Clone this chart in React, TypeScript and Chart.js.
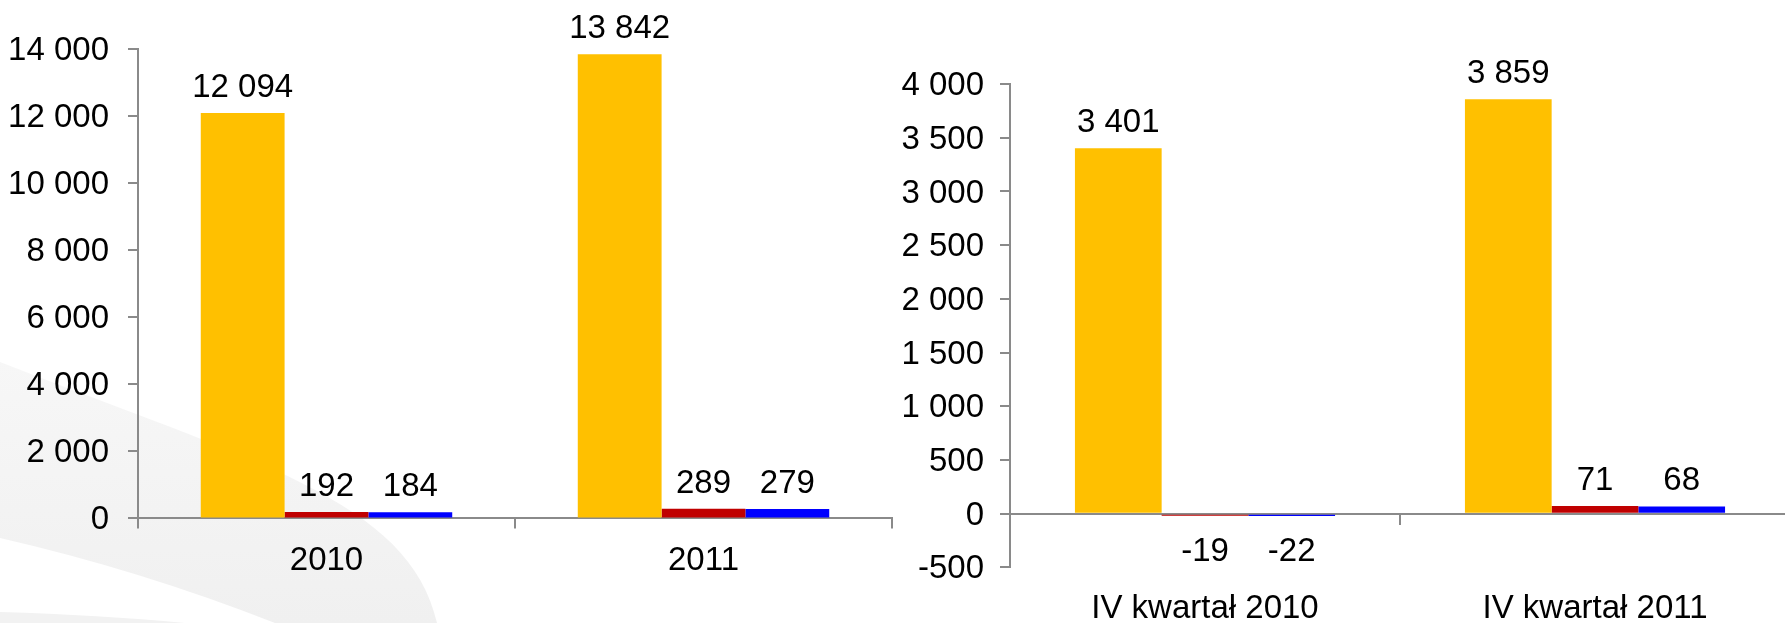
import React, { useEffect, useRef } from 'react';
import { Chart, registerables } from 'chart.js';

Chart.register(...registerables);

// ---- data ----
const leftCategories = ['2010', '2011'];
const leftYellow = [12094, 13842];
const leftRed = [192, 289];
const leftBlue = [184, 279];
const leftRange = [0, 14000, 2000];

const rightCategories = ['IV kwartał 2010', 'IV kwartał 2011'];
const rightYellow = [3401, 3859];
const rightRed = [-19, 71];
const rightBlue = [-22, 68];
const rightRange = [-500, 4000, 500];

// ---- styles ----
const YELLOW = '#FFC000';
const RED = '#C00000';
const BLUE = '#0000FF';
const AXIS = '#8a8a8a';
const FONT = "'Liberation Sans', Arial, sans-serif";
const FONT_SIZE = 33;

function fmt(v: number | string): string {
  const n = Number(v);
  const s = Math.abs(n).toString().replace(/\B(?=(\d{3})+(?!\d))/g, ' ');
  return (n < 0 ? '-' : '') + s;
}

const valueLabels = {
  id: 'valueLabels',
  afterDatasetsDraw(chart: any) {
    const ctx = chart.ctx;
    ctx.save();
    ctx.font = `${FONT_SIZE}px ${FONT}`;
    ctx.fillStyle = '#000';
    ctx.textAlign = 'center';
    ctx.textBaseline = 'alphabetic';
    chart.data.datasets.forEach((ds: any, i: number) => {
      const meta = chart.getDatasetMeta(i);
      meta.data.forEach((bar: any, j: number) => {
        const v = ds.data[j];
        const { x, y } = bar.getProps(['x', 'y'], true);
        if (v >= 0) ctx.fillText(fmt(v), x, y - 16);
        else ctx.fillText(fmt(v), x, y + 45);
      });
    });
    ctx.restore();
  },
};

const swoosh = {
  id: 'swoosh',
  beforeDraw(chart: any) {
    const ctx = chart.ctx;
    ctx.save();
    const g = ctx.createLinearGradient(0, 360, 0, 623);
    g.addColorStop(0, '#f7f7f7');
    g.addColorStop(1, '#f0f0f0');
    ctx.fillStyle = g;
    ctx.beginPath();
    ctx.moveTo(0, 362);
    ctx.bezierCurveTo(250, 460, 410, 500, 437, 623);
    ctx.lineTo(275, 623);
    ctx.quadraticCurveTo(140, 570, 0, 538);
    ctx.closePath();
    ctx.fill();
    ctx.fillStyle = '#f2f2f2';
    ctx.beginPath();
    ctx.moveTo(0, 612);
    ctx.quadraticCurveTo(100, 615, 185, 623);
    ctx.lineTo(0, 623);
    ctx.closePath();
    ctx.fill();
    ctx.restore();
  },
};

function datasets(a: number[], b: number[], c: number[]) {
  return [
    { data: a, backgroundColor: YELLOW },
    { data: b, backgroundColor: RED },
    { data: c, backgroundColor: BLUE },
  ].map((d) => ({ ...d, xAxisID: 'x', categoryPercentage: 0.667, barPercentage: 1, borderWidth: 0 }));
}

const tickFont = { family: FONT, size: FONT_SIZE };

export default function App() {
  const leftRef = useRef<HTMLCanvasElement>(null);
  const rightRef = useRef<HTMLCanvasElement>(null);

  useEffect(() => {
    const left = new Chart(leftRef.current!, {
      type: 'bar',
      data: { labels: leftCategories, datasets: datasets(leftYellow, leftRed, leftBlue) as any },
      options: {
        responsive: false,
        animation: false,
        layout: { padding: { top: 49, right: 8, bottom: 29, left: 0 } },
        plugins: { legend: { display: false }, tooltip: { enabled: false } },
        scales: {
          x: {
            type: 'category',
            offset: true,
            grid: { offset: true, drawOnChartArea: false, color: AXIS, lineWidth: 2, tickLength: 10 },
            border: { color: AXIS, width: 2 },
            ticks: { color: '#000', font: tickFont, padding: 13, maxRotation: 0 },
          },
          y: {
            min: leftRange[0],
            max: leftRange[1],
            grid: { drawOnChartArea: false, color: AXIS, lineWidth: 2, tickLength: 10 },
            border: { color: AXIS, width: 2 },
            ticks: { stepSize: leftRange[2], color: '#000', font: tickFont, padding: 19, labelOffset: 2, callback: (v: any) => fmt(v) },
            afterFit: (s: any) => {
              s.width = 138;
            },
          },
        },
      } as any,
      plugins: [swoosh, valueLabels],
    });

    const right = new Chart(rightRef.current!, {
      type: 'bar',
      data: { labels: rightCategories, datasets: datasets(rightYellow, rightRed, rightBlue) as any },
      options: {
        responsive: false,
        animation: false,
        layout: { padding: { top: 84, right: 10, bottom: 49, left: 0 } },
        plugins: { legend: { display: false }, tooltip: { enabled: false } },
        scales: {
          x: {
            type: 'category',
            position: { y: 0 },
            offset: true,
            grid: { offset: true, drawOnChartArea: false, color: AXIS, lineWidth: 2, tickLength: 10 },
            border: { color: AXIS, width: 2 },
            ticks: { display: false },
          },
          x2: {
            type: 'category',
            position: 'bottom',
            offset: true,
            grid: { display: false, drawTicks: false, tickLength: 0 },
            border: { display: false },
            ticks: { color: '#000', font: tickFont, padding: 22, maxRotation: 0 },
          },
          y: {
            min: rightRange[0],
            max: rightRange[1],
            grid: { drawOnChartArea: false, color: AXIS, lineWidth: 2, tickLength: 10 },
            border: { color: AXIS, width: 2 },
            ticks: { stepSize: rightRange[2], color: '#000', font: tickFont, padding: 16, labelOffset: 2, callback: (v: any) => fmt(v) },
            afterFit: (s: any) => {
              s.width = 160;
            },
          },
        },
      } as any,
      plugins: [valueLabels],
    });

    return () => {
      left.destroy();
      right.destroy();
    };
  }, []);

  return (
    <div
      style={{
        position: 'fixed',
        left: 0,
        top: 0,
        width: 1785,
        height: 623,
        overflow: 'hidden',
        background: '#fff',
      }}
    >
      <canvas
        ref={leftRef}
        width={900}
        height={623}
        style={{ position: 'absolute', left: 0, top: 0, width: 900, height: 623 }}
      />
      <canvas
        ref={rightRef}
        width={950}
        height={700}
        style={{ position: 'absolute', left: 850, top: 0, width: 950, height: 700 }}
      />
    </div>
  );
}
